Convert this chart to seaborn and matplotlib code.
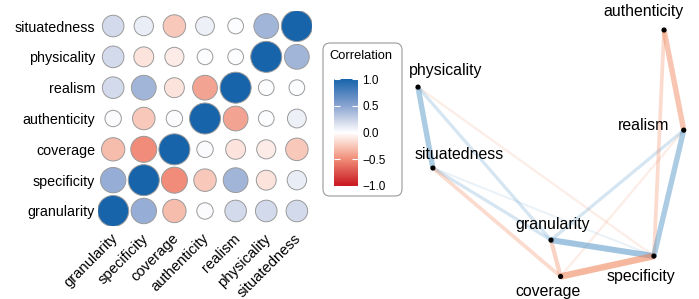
import numpy as np
import pandas as pd
import matplotlib
matplotlib.use("Agg")
import matplotlib.pyplot as plt
import matplotlib.transforms as mtransforms
from matplotlib.colors import LinearSegmentedColormap, Normalize
from matplotlib.cm import ScalarMappable
from matplotlib.patches import FancyBboxPatch
import seaborn as sns

variables = ["granularity", "specificity", "coverage", "authenticity",
             "realism", "physicality", "situatedness"]

r_granularity = [1.00, 0.45, -0.30, 0.02, 0.20, 0.20, 0.20]
r_specificity = [0.45, 1.00, -0.50, -0.25, 0.40, -0.12, 0.10]
r_coverage = [-0.30, -0.50, 1.00, 0.02, -0.12, -0.09, -0.25]
r_authenticity = [0.02, -0.25, 0.02, 1.00, -0.40, 0.01, 0.08]
r_realism = [0.20, 0.40, -0.12, -0.40, 1.00, 0.01, 0.01]
r_physicality = [0.20, -0.12, -0.09, 0.01, 0.01, 1.00, 0.40]
r_situatedness = [0.20, 0.10, -0.25, 0.08, 0.01, 0.40, 1.00]

# network layout (MDS-like coordinates, same order as variables)
node_x = [0.500, 0.887, 0.536, 0.925, 0.999, 0.000, 0.056]
node_y = [0.146, 0.081, -0.002, 1.000, 0.593, 0.768, 0.439]

corr = np.array([r_granularity, r_specificity, r_coverage, r_authenticity,
                 r_realism, r_physicality, r_situatedness])

plt.rcParams["font.family"] = ["Liberation Sans", "DejaVu Sans"]

corr_cmap = LinearSegmentedColormap.from_list("corr", [
    (0.0, "#C8161E"), (0.25, "#F08C78"), (0.375, "#F8C8BA"), (0.5, "#FFFFFF"),
    (0.6, "#D3DAEB"), (0.75, "#8AA4D1"), (1.0, "#1764AB")])
norm = Normalize(-1, 1)

# long table for the circle matrix
rows = []
for i, rv in enumerate(variables):
    for j, cv in enumerate(variables):
        r = corr[i, j]
        d_px = 14 + 17 * np.sqrt(abs(r))
        rows.append({"row": i, "col": j, "r": r, "s": (d_px * 0.72) ** 2})
cells = pd.DataFrame(rows)

fig = plt.figure(figsize=(6.99, 2.99), dpi=100)

# --- circle matrix
ax = fig.add_axes([0.140, 0.2428, 0.3066, 0.7217])
sns.scatterplot(data=cells, x="col", y="row", hue="r", palette=corr_cmap,
                hue_norm=(-1, 1), s=cells["s"].to_numpy(), edgecolor="#9A9A9A",
                linewidth=0.7, legend=False, ax=ax, zorder=3)
ax.set_xlim(-0.5, 6.5)
ax.set_ylim(-0.5, 6.5)
ax.set_xticks(range(7))
ax.set_yticks(range(7))
ax.set_xticklabels(variables, rotation=45, ha="right", va="top",
                   rotation_mode="anchor", fontsize=10.6)
ax.set_yticklabels(variables, fontsize=10.3)
ax.tick_params(length=0, pad=2)
shift = mtransforms.ScaledTranslation(-3 / 100, -2 / 100, fig.dpi_scale_trans)
for lab in ax.get_xticklabels():
    lab.set_transform(lab.get_transform() + shift)
ax.set_xlabel("")
ax.set_ylabel("")
for sp in ax.spines.values():
    sp.set_visible(False)

# --- legend box with colour bar
box = FancyBboxPatch((3.23, 1.03), 0.79, 1.53, boxstyle="round,pad=0,rounding_size=0.07",
                     transform=fig.dpi_scale_trans, facecolor="white",
                     edgecolor="#9A9A9A", linewidth=0.8, zorder=-5)
fig.add_artist(box)
fig.text(329 / 699, 1 - 56 / 299, "Correlation", ha="left", va="center", fontsize=9.3)
cax = fig.add_axes([334 / 699, 1 - 186 / 299, 24 / 699, 107 / 299])
cb = fig.colorbar(ScalarMappable(norm=norm, cmap=corr_cmap), cax=cax)
cb.outline.set_visible(False)
cb.set_ticks([-1, -0.5, 0, 0.5, 1])
cb.set_ticklabels(["\u22121.0", "\u22120.5", "0.0", "0.5", "1.0"])
cax.tick_params(left=True, right=True, direction="in", color="white",
                length=4, width=0.8, labelsize=8.5, pad=3)

# --- network plot
axn = fig.add_axes([405 / 699, 0, 294 / 699, 1])
axn.set_xlim(-0.0489, 1.0564)
axn.set_ylim(-0.0935, 1.122)
axn.axis("off")

edges = []
for i in range(7):
    for j in range(i + 1, 7):
        if abs(corr[i, j]) >= 0.1:
            edges.append((abs(corr[i, j]), i, j, corr[i, j]))
edges.sort()
for a, i, j, r in edges:
    col = "#4A90C4" if r > 0 else "#EE8256"
    axn.plot([node_x[i], node_x[j]], [node_y[i], node_y[j]], color=col,
             alpha=min(1, 1.15 * a), lw=(1 + 11 * a) * 0.72,
             solid_capstyle="butt", zorder=1)

sns.scatterplot(x=node_x, y=node_y, color="black", s=14, edgecolor="none",
                ax=axn, zorder=3)

label_offsets = {"granularity": (1.5, 11.5), "specificity": (-9, -15),
                 "coverage": (-9, -11), "authenticity": (-14.5, 13),
                 "realism": (-29, 3.5), "physicality": (20, 12),
                 "situatedness": (19, 10)}
for k, name in enumerate(variables):
    axn.annotate(name, (node_x[k], node_y[k]), xytext=label_offsets[name],
                 textcoords="offset points", ha="center", va="center",
                 fontsize=11.4, zorder=4)

fig.savefig("out.png", dpi=100)
